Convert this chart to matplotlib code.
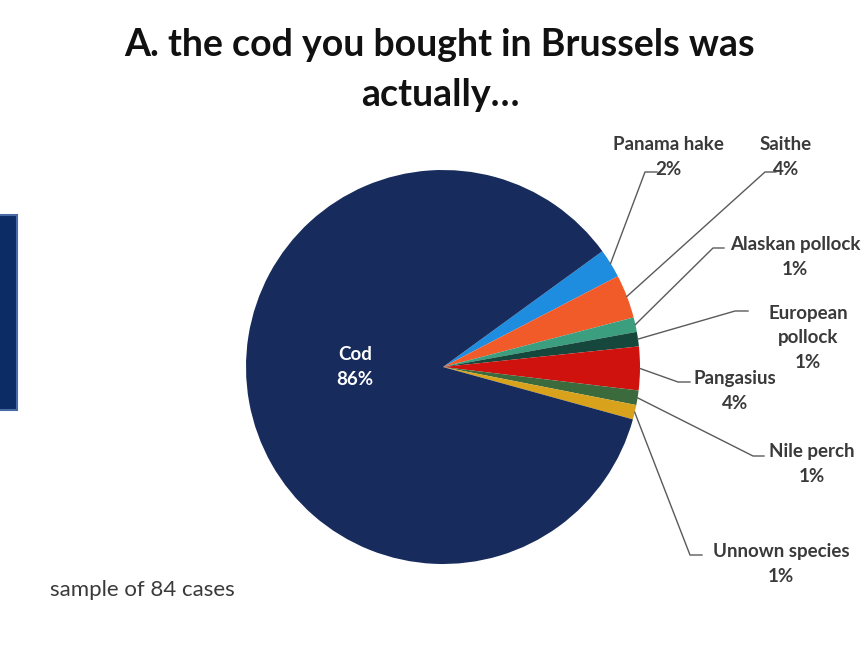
import numpy as np
import matplotlib.pyplot as plt
from matplotlib.patches import Rectangle

# counts out of 84 samples (read as %)
species = ["Panama hake", "Saithe", "Alaskan pollock", "European pollock",
           "Pangasius", "Nile perch", "Unnown species", "Cod"]
counts = [2, 3, 1, 1, 3, 1, 1, 72]
pct_labels = ["2%", "4%", "1%", "1%", "4%", "1%", "1%", "86%"]
label_text = ["Panama hake\n2%", "Saithe\n4%", "Alaskan pollock\n1%",
              "European\npollock\n1%", "Pangasius\n4%", "Nile perch\n1%",
              "Unnown species\n1%"]
colors = ["#1e8de0", "#f15a29", "#3a9e7f", "#15473d", "#d0120f",
          "#3b6b3c", "#d8a21c", "#172c5c"]

W, H = 862, 645
fig = plt.figure(figsize=(W / 100, H / 100), dpi=100)
ax = fig.add_axes([0, 0, 1, 1])

cx, cy, R = 443, H - 367, 197
wedges, _ = ax.pie(counts, colors=colors, startangle=36, counterclock=False,
                   center=(cx, cy), radius=R, frame=True,
                   wedgeprops=dict(linewidth=0))
ax.set_xlim(0, W)
ax.set_ylim(0, H)
ax.set_aspect('equal')
ax.axis('off')

# leader elbows and label centres (pixel coords, y from top)
elbows = [(645, 172, 657), (765, 172, 776), (713, 248, 724), (735, 311, 748),
          (678, 382, 690), (753, 456, 764), (690, 555, 702)]
text_pos = [(668, 157), (786, 157), (795, 257), (808, 338),
            (735, 391), (812, 464), (781, 564)]
font = "Lato"
for w, (ex, ey, hx), (tx, ty), txt in zip(wedges, elbows, text_pos, label_text):
    ang = np.deg2rad((w.theta1 + w.theta2) / 2)
    x0 = cx + R * np.cos(ang)
    y0 = cy + R * np.sin(ang)
    ax.plot([x0, ex, hx], [y0, H - ey, H - ey], color="#5a5a5a", lw=1.0)
    ax.text(tx, H - ty, txt, ha='center', va='center', fontsize=13.5,
            fontweight='bold', family=font, color="#3a3a3a", linespacing=1.55)

ax.text(355, H - 367, "Cod\n86%", ha='center', va='center', fontsize=13.5,
        fontweight='bold', family=font, color="white", linespacing=1.55)

fig.text(440 / W, 1 - 70 / H, "A. the cod you bought in Brussels was\nactually…",
         ha='center', va='center', fontsize=27, fontweight='bold', family=font,
         color="#111111", linespacing=1.6)
fig.text(50 / W, 1 - 590 / H, "sample of 84 cases", ha='left', va='center',
         fontsize=16, family=font, color="#3a3a3a")

# partial blue box at left edge
ax.add_patch(Rectangle((-10, H - 410), 27, 195, facecolor="#0c2c66",
                       edgecolor="#4a6aa5", lw=1.5, zorder=3))

fig.savefig("out.png", dpi=100)
